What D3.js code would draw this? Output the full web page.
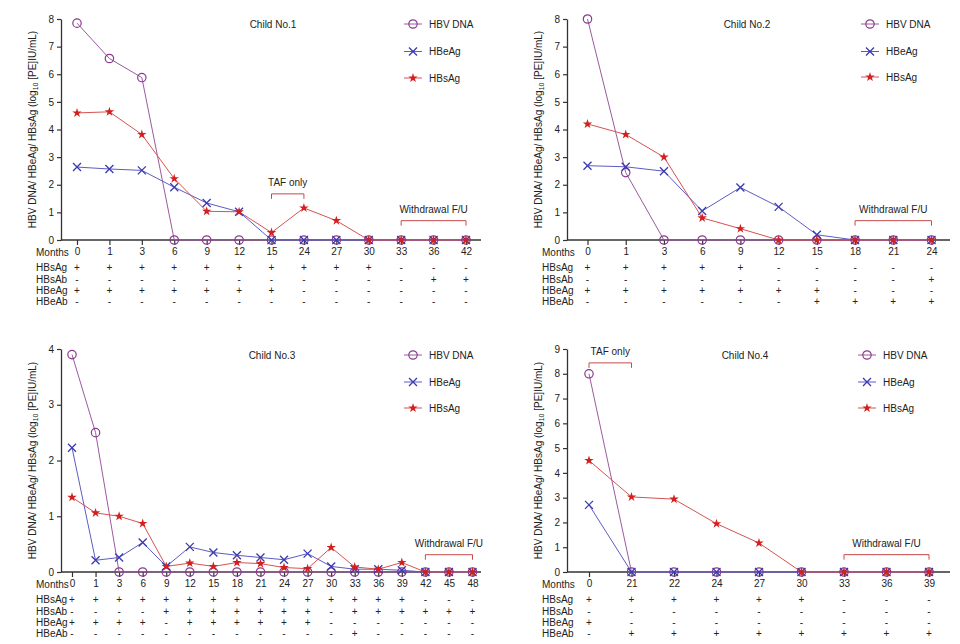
<!DOCTYPE html>
<html><head><meta charset="utf-8">
<script src="https://cdn.jsdelivr.net/npm/d3@7"></script>
<style>body{margin:0;background:#fff;} svg{display:block;}</style>
</head><body><svg id="c" width="960" height="644"></svg>
<script>
// ---------- DATA ----------
const months1 = ["0","1","3","6","9","12","15","24","27","30","33","36","42"];
const dna1    = [7.85,6.57,5.88,0,0,0,0,0,0,0,0,0,0];
const hbeag1  = [2.64,2.57,2.52,1.91,1.34,1.02,0,0,0,0,0,0,0];
const hbsag1  = [4.6,4.64,3.82,2.22,1.04,1.02,0.27,1.16,0.7,0,0,0,0];
const signHBsAg1 = ["+","+","+","+","+","+","+","+","+","+","-","-","-"];
const signHBsAb1 = ["-","-","-","-","-","-","-","-","-","-","-","+","+"];
const signHBeAg1 = ["+","+","+","+","+","+","+","-","-","-","-","-","-"];
const signHBeAb1 = ["-","-","-","-","-","-","-","-","-","-","-","-","-"];

const months2 = ["0","1","3","6","9","12","15","18","21","24"];
const dna2    = [8.0,2.44,0,0,0,0,0,0,0,0];
const hbeag2  = [2.69,2.65,2.49,1.05,1.9,1.2,0.19,0,0,0];
const hbsag2  = [4.2,3.82,3.0,0.8,0.41,0,0,0,0,0];
const signHBsAg2 = ["+","+","+","+","+","-","-","-","-","-"];
const signHBsAb2 = ["-","-","-","-","-","-","-","-","-","+"];
const signHBeAg2 = ["+","+","+","+","+","+","+","-","-","-"];
const signHBeAb2 = ["-","-","-","-","-","-","+","+","+","+"];

const months3 = ["0","1","3","6","9","12","15","18","21","24","27","30","33","36","39","42","45","48"];
const dna3    = [3.9,2.5,0,0,0,0,0,0,0,0,0,0,0,0,0,0,0,0];
const hbeag3  = [2.23,0.21,0.26,0.53,0.1,0.45,0.35,0.3,0.26,0.22,0.33,0.1,0.05,0.05,0.03,0,0,0];
const hbsag3  = [1.34,1.06,1.0,0.87,0.1,0.16,0.1,0.17,0.15,0.08,0.06,0.44,0.09,0.05,0.17,0,0,0];
const signHBsAg3 = ["+","+","+","+","+","+","+","+","+","+","+","+","+","+","+","-","-","-"];
const signHBsAb3 = ["-","-","-","-","+","+","+","+","+","+","+","-","+","+","+","+","+","+"];
const signHBeAg3 = ["+","+","+","+","-","+","+","+","+","+","+","-","-","-","-","-","-","-"];
const signHBeAb3 = ["-","-","-","-","-","-","-","-","-","-","-","-","+","-","-","-","-","-"];

const months4 = ["0","21","22","24","27","30","33","36","39"];
const dna4    = [8.0,0,0,0,0,0,0,0,0];
const hbeag4  = [2.71,0,0,0,0,0,0,0,0];
const hbsag4  = [4.5,3.03,2.94,1.95,1.17,0,0,0,0];
const signHBsAg4 = ["+","+","+","+","+","+","-","-","-"];
const signHBsAb4 = ["-","-","-","-","-","-","-","-","-"];
const signHBeAg4 = ["+","-","-","-","-","-","-","-","-"];
const signHBeAb4 = ["-","+","+","+","+","+","+","+","+"];

const titles = ["Child No.1","Child No.2","Child No.3","Child No.4"];
const seriesNames = ["HBV DNA","HBeAg","HBsAg"];
const rowNames = ["HBsAg","HBsAb","HBeAg","HBeAb"];

// ---------- STYLE / LAYOUT ----------
const FONT = "'Liberation Sans', Arial, Helvetica, sans-serif";
const AX = "#333";
const colors = {
  dna: {mark:"#8a3a8e", line:"#9c5aa0"},
  eag: {mark:"#3a3ab0", line:"#5c5cc4"},
  sag: {mark:"#d41f1f", line:"#d65252"}
};

const svg = d3.select("#c");

const panels = [
  {months:months1, dna:dna1, eag:hbeag1, sag:hbsag1, signs:[signHBsAg1,signHBsAb1,signHBeAg1,signHBeAb1],
   title:titles[0], ymax:8, ax:61, yb:240, yt:19, x0:77, x1:466, axEnd:481, titleX:273, legX:413, legY:[24,51.5,78],
   brackets:[{a:"15",b:"24",v:1.67,label:"TAF only"},{a:"33",b:"42",v:0.7,label:"Withdrawal F/U"}]},
  {months:months2, dna:dna2, eag:hbeag2, sag:hbsag2, signs:[signHBsAg2,signHBsAb2,signHBeAg2,signHBeAb2],
   title:titles[1], ymax:8, ax:567, yb:240, yt:19, x0:587.5, x1:931.5, axEnd:950, titleX:747, legX:870, legY:[24,51.5,77],
   brackets:[{a:"18",b:"24",v:0.7,label:"Withdrawal F/U"}]},
  {months:months3, dna:dna3, eag:hbeag3, sag:hbsag3, signs:[signHBsAg3,signHBsAb3,signHBeAg3,signHBeAb3],
   title:titles[2], ymax:4, ax:61, yb:572, yt:349, x0:72, x1:472.5, axEnd:481, titleX:272, legX:413, legY:[355,382,408],
   brackets:[{a:"42",b:"48",v:0.31,label:"Withdrawal F/U"}]},
  {months:months4, dna:dna4, eag:hbeag4, sag:hbsag4, signs:[signHBsAg4,signHBsAb4,signHBeAg4,signHBeAb4],
   title:titles[3], ymax:9, ax:567, yb:572, yt:349, x0:589, x1:929, axEnd:950, titleX:745, legX:867, legY:[355,382,408],
   brackets:[{a:"0",b:"21",v:8.44,label:"TAF only"},{a:"33",b:"39",v:0.7,label:"Withdrawal F/U"}]}
];

const rowOffsets = [27.5, 39, 50.7, 61.5];

function circleMark(g, cx, cy, col){
  g.append("circle").attr("cx",cx).attr("cy",cy).attr("r",4.2)
   .attr("fill","none").attr("stroke",col).attr("stroke-width",1.2);
}
function xMark(g, cx, cy, col){
  const s=4;
  g.append("path").attr("d",`M${cx-s},${cy-s}L${cx+s},${cy+s}M${cx-s},${cy+s}L${cx+s},${cy-s}`)
   .attr("stroke",col).attr("stroke-width",1.3).attr("fill","none");
}
const starPath = d3.symbol().type(d3.symbolStar).size(28)();
function starMark(g, cx, cy, col){
  g.append("path").attr("d",starPath).attr("transform",`translate(${cx},${cy})`).attr("fill",col);
}
const markers = {dna:circleMark, eag:xMark, sag:starMark};

function drawPanel(p){
  const g = svg.append("g");
  const x = d3.scalePoint().domain(p.months).range([p.x0, p.x1]);
  const y = d3.scaleLinear().domain([0,p.ymax]).range([p.yb, p.yt]);

  // y axis
  const ya = g.append("g").attr("transform",`translate(${p.ax},0)`)
    .call(d3.axisLeft(y).ticks(p.ymax).tickSize(4).tickSizeOuter(0).tickPadding(3).tickFormat(d3.format("d")));
  ya.select(".domain").attr("stroke",AX).attr("stroke-width",1.3);
  ya.selectAll(".tick line").attr("stroke",AX).attr("stroke-width",1.2);
  ya.selectAll(".tick text").attr("font-family",FONT).attr("font-size",10).attr("fill","#222");

  // x axis
  const xa = g.append("g").attr("transform",`translate(0,${p.yb})`)
    .call(d3.axisBottom(x).tickSize(5).tickSizeOuter(0).tickPadding(3));
  xa.select(".domain").remove();
  xa.selectAll(".tick line").attr("stroke",AX).attr("stroke-width",1.2);
  xa.selectAll(".tick text").attr("font-family",FONT).attr("font-size",10).attr("fill","#222");
  g.append("line").attr("x1",p.ax).attr("x2",p.axEnd).attr("y1",p.yb).attr("y2",p.yb)
    .attr("stroke",AX).attr("stroke-width",1.3);

  // y axis title
  const lx = p.ax - 29, ly = (p.yb + p.yt)/2;
  const t = g.append("text").attr("transform",`translate(${lx},${ly}) rotate(-90)`)
    .attr("text-anchor","middle").attr("font-family",FONT).attr("font-size",10).attr("fill","#222")
    .attr("dy","0.35em");
  t.append("tspan").text("HBV DNA/ HBeAg/ HBsAg (log");
  t.append("tspan").attr("font-size",7).attr("dy",2.5).text("10");
  t.append("tspan").attr("dy",-2.5).text(" [PE]IU/mL)");

  // table
  const labX = p.ax - 25;
  g.append("text").attr("x",labX).attr("y",p.yb+12.5).attr("dy","0.35em")
    .attr("font-family",FONT).attr("font-size",10).attr("fill","#222").text("Months");
  rowNames.forEach((rn,ri)=>{
    const yy = p.yb + rowOffsets[ri];
    g.append("text").attr("x",labX).attr("y",yy).attr("dy","0.35em")
      .attr("font-family",FONT).attr("font-size",10).attr("fill","#222").text(rn);
    g.selectAll(null).data(p.signs[ri]).enter().append("text")
      .attr("x",(d,i)=>x(p.months[i])).attr("y",yy).attr("dy","0.35em")
      .attr("text-anchor","middle").attr("font-family",FONT).attr("font-size",10).attr("fill","#222")
      .text(d=>d);
  });

  // lines
  const keys = ["dna","eag","sag"];
  keys.forEach(k=>{
    const line = d3.line().x((d,i)=>x(p.months[i])).y(d=>y(d));
    g.append("path").attr("d",line(p[k])).attr("fill","none")
      .attr("stroke",colors[k].line).attr("stroke-width",1);
  });
  keys.forEach(k=>{
    p[k].forEach((v,i)=> markers[k](g, x(p.months[i]), y(v), colors[k].mark));
  });

  // title
  g.append("text").attr("x",p.titleX).attr("y",p.legY[0]).attr("dy","0.35em").attr("text-anchor","middle")
    .attr("font-family",FONT).attr("font-size",10).attr("fill","#222").text(p.title);

  // legend
  keys.forEach((k,i)=>{
    const ly2 = p.legY[i];
    g.append("line").attr("x1",p.legX-9).attr("x2",p.legX+9).attr("y1",ly2).attr("y2",ly2)
      .attr("stroke",colors[k].line).attr("stroke-width",1);
    markers[k](g, p.legX, ly2, colors[k].mark);
    g.append("text").attr("x",p.legX+16).attr("y",ly2).attr("dy","0.35em")
      .attr("font-family",FONT).attr("font-size",10).attr("fill","#222").text(seriesNames[i]);
  });

  // brackets
  p.brackets.forEach(b=>{
    const xa1 = x(b.a), xb1 = x(b.b), yy = y(b.v);
    g.append("path").attr("d",`M${xa1},${yy+5}V${yy}H${xb1}V${yy+5}`)
      .attr("fill","none").attr("stroke","#c84a4a").attr("stroke-width",1);
    g.append("text").attr("x",(xa1+xb1)/2).attr("y",yy-11.5).attr("dy","0.35em").attr("text-anchor","middle")
      .attr("font-family",FONT).attr("font-size",10).attr("fill","#222").text(b.label);
  });
}

panels.forEach(drawPanel);
</script>
</body></html>
